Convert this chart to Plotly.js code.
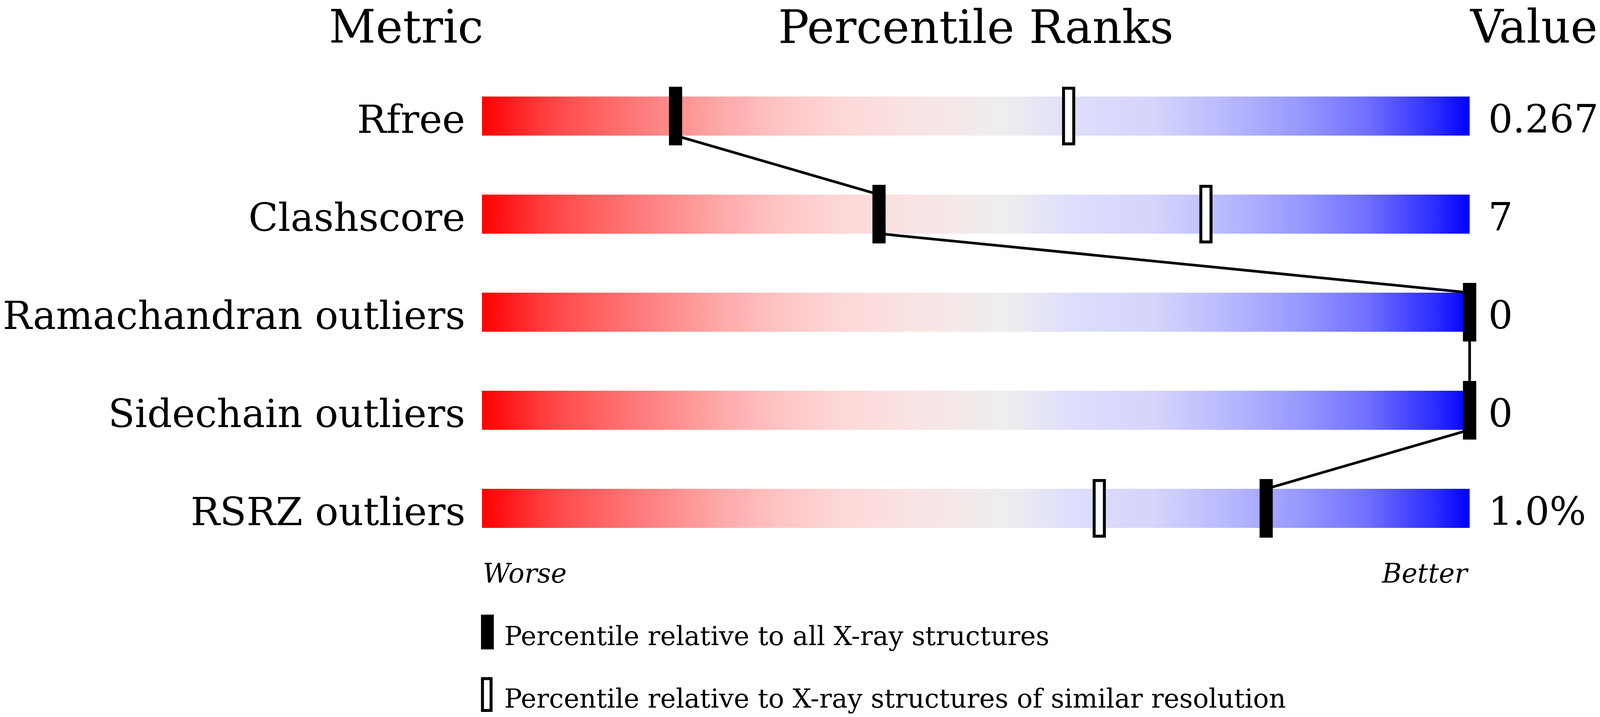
<!DOCTYPE html>
<html>
<head>
<meta charset="utf-8">
<script src="https://cdn.plot.ly/plotly-3.0.1.min.js"></script>
<style>
  html, body { margin: 0; padding: 0; background: #fff; overflow: hidden; }
</style>
</head>
<body>
<div id="myDiv"></div>
<script>
var metrics = ['Rfree', 'Clashscore', 'Ramachandran outliers', 'Sidechain outliers', 'RSRZ outliers'];
var values = ['0.267', '7', '0', '0', '1.0%'];
var pctAll = [19.6, 40.2, 100, 100, 79.4];
var pctSimilar = [59.4, 73.3, 100, 100, 62.5];
var legendLabels = ['Percentile relative to all X-ray structures',
                    'Percentile relative to X-ray structures of similar resolution'];

// the design is 4860x1835; stretch it over the window actually given
var W = window.innerWidth || 4860, H = window.innerHeight || 1835;
var sx = W / 4860, sy = H / 1835;
var fs = Math.min(sx, sy);

var serif = 'DejaVu Serif, serif';
var trackHalf = 0.199;   // half height of a track, in row units
var markHalfW = 0.667;   // half width of a marker, in percentile units
var markHalfH = 0.299;
var border = 9 * fs;     // outline of the "similar" marker, px

var sliderScale = [
  [0, 'rgb(255,0,0)'], [0.07, 'rgb(255,69,69)'], [0.127, 'rgb(255,104,104)'],
  [0.187, 'rgb(255,138,138)'], [0.247, 'rgb(255,171,171)'], [0.306, 'rgb(255,198,198)'],
  [0.366, 'rgb(253,216,216)'], [0.425, 'rgb(250,226,226)'], [0.53, 'rgb(238,238,238)'],
  [0.6, 'rgb(221,221,252)'], [0.68, 'rgb(213,213,253)'], [0.755, 'rgb(184,184,255)'],
  [0.826, 'rgb(153,153,255)'], [0.896, 'rgb(112,112,255)'], [0.967, 'rgb(42,42,255)'],
  [1, 'rgb(0,0,255)']
];

var data = [];
var shapes = [];
var annotations = [];

// gradient tracks
metrics.forEach(function (m, i) {
  data.push({
    type: 'scatter',
    x: [0, 100, 100, 0, 0],
    y: [i - trackHalf, i - trackHalf, i + trackHalf, i + trackHalf, i - trackHalf],
    mode: 'none',
    fill: 'toself',
    fillgradient: { type: 'horizontal', colorscale: sliderScale },
    hoverinfo: 'skip'
  });
});

// line joining the "all structures" markers
var lx = [], ly = [];
pctAll.forEach(function (v, i) {
  if (i > 0) { lx.push(v); ly.push(i - trackHalf); }
  if (i < pctAll.length - 1) { lx.push(v); ly.push(i + trackHalf); }
});
data.push({
  type: 'scatter', x: lx, y: ly, mode: 'lines',
  line: { color: '#000', width: 8 * fs }, hoverinfo: 'skip'
});

// markers (outline inset so the outer edge matches the filled one)
var inset = border / 2 / (30 * sx);
var insetY = border / 2 / (251 * sy);
pctSimilar.forEach(function (v, i) {
  shapes.push({
    type: 'rect', xref: 'x', yref: 'y', layer: 'above',
    x0: v - markHalfW + inset, x1: v + markHalfW - inset,
    y0: i - markHalfH + insetY, y1: i + markHalfH - insetY,
    fillcolor: '#fff', line: { color: '#000', width: border }
  });
});
pctAll.forEach(function (v, i) {
  shapes.push({
    type: 'rect', xref: 'x', yref: 'y', layer: 'above',
    x0: v - markHalfW, x1: v + markHalfW,
    y0: i - markHalfH, y1: i + markHalfH,
    fillcolor: '#000', line: { width: 0 }
  });
});

// row labels and values
metrics.forEach(function (m, i) {
  annotations.push({
    x: -1.6, y: i + 0.034, xref: 'x', yref: 'y', text: m, showarrow: false,
    xanchor: 'right', yanchor: 'middle', font: { family: serif, size: 118 * fs, color: '#000' }
  });
  annotations.push({
    x: 101.8, y: i + 0.03, xref: 'x', yref: 'y', text: values[i], showarrow: false,
    xanchor: 'left', yanchor: 'middle', font: { family: serif, size: 117 * fs, color: '#000' }
  });
});

// headers
var headY = -0.91;
var headFont = { family: serif, size: 139 * fs, color: '#000' };
annotations.push({ x: 0.2, y: headY, xref: 'x', yref: 'y', text: 'Metric', showarrow: false,
  xanchor: 'right', yanchor: 'middle', font: headFont });
annotations.push({ x: 50, y: headY, xref: 'x', yref: 'y', text: 'Percentile Ranks', showarrow: false,
  xanchor: 'center', yanchor: 'middle', font: { family: serif, size: 140 * fs, color: '#000' } });
annotations.push({ x: 99.9, y: headY, xref: 'x', yref: 'y', text: 'Value', showarrow: false,
  xanchor: 'left', yanchor: 'middle', font: headFont });

// worse / better
var endFont = { family: serif, size: 81 * fs, color: '#000', style: 'italic' };
annotations.push({ x: 0, y: 4.665, xref: 'x', yref: 'y', text: 'Worse', showarrow: false,
  xanchor: 'left', yanchor: 'middle', font: endFont });
annotations.push({ x: 100, y: 4.665, xref: 'x', yref: 'y', text: 'Better', showarrow: false,
  xanchor: 'right', yanchor: 'middle', font: endFont });

// legend
var legFont = { family: serif, size: 80 * fs, color: '#000' };
shapes.push({ type: 'rect', xref: 'x', yref: 'y', x0: -0.1, x1: 1.2, y0: 5.084, y1: 5.438,
  fillcolor: '#000', line: { width: 0 } });
shapes.push({ type: 'rect', xref: 'x', yref: 'y', x0: -0.1 + inset, x1: 1.07 - inset,
  y0: 5.721 + insetY, y1: 6.076 - insetY, fillcolor: '#fff', line: { color: '#000', width: border } });
annotations.push({ x: 2.17, y: 5.30, xref: 'x', yref: 'y', text: legendLabels[0], showarrow: false,
  xanchor: 'left', yanchor: 'middle', font: legFont });
annotations.push({ x: 2.17, y: 5.94, xref: 'x', yref: 'y', text: legendLabels[1], showarrow: false,
  xanchor: 'left', yanchor: 'middle', font: legFont });

var div = document.getElementById('myDiv');
div.style.width = W + 'px';
div.style.height = H + 'px';

var layout = {
  width: W,
  height: H,
  margin: { l: 0, r: 0, t: 0, b: 0, pad: 0 },
  paper_bgcolor: '#fff',
  plot_bgcolor: '#fff',
  showlegend: false,
  xaxis: { range: [-48.8, 113.2], visible: false, fixedrange: true },
  yaxis: { range: [6.12749, -1.18327], visible: false, fixedrange: true },
  shapes: shapes,
  annotations: annotations
};

Plotly.newPlot('myDiv', data, layout, { displayModeBar: false, staticPlot: true });
</script>
</body>
</html>
